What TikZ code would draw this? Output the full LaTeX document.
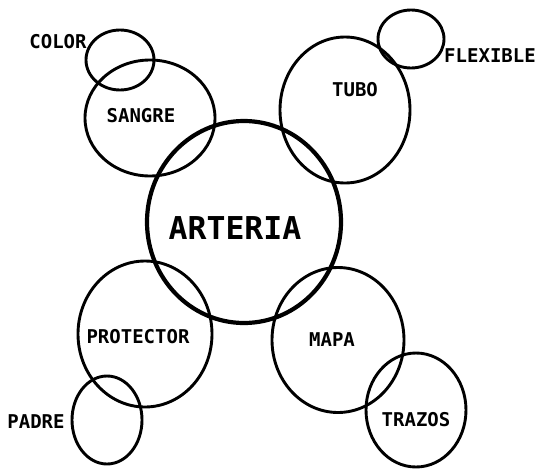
\documentclass[tikz,border=0pt]{standalone}
\usepackage{fontspec}
\newfontfamily\pixfont{DejaVu Sans Mono}[BoldFont={DejaVu Sans Mono Bold}]
\usetikzlibrary{shapes.geometric}
\tikzset{
  bubble/.style={ellipse, draw=black, line width=2.9pt, inner sep=0pt},
  bigbubble/.style={ellipse, draw=black, line width=4.2pt, inner sep=0pt},
  lbl/.style={inner sep=0pt, font=\pixfont\bfseries\fontsize{19}{19}\selectfont},
  biglbl/.style={inner sep=0pt, font=\pixfont\bfseries\fontsize{31.5}{31.5}\selectfont},
}
\begin{document}
\begin{tikzpicture}[x=1pt,y=-1pt]
\useasboundingbox[fill=white] (0,0) rectangle (538,469);
% satellite circles
\node[bubble, minimum width=68pt, minimum height=60pt] (colorc) at (120,60) {};
\node[bubble, minimum width=130pt, minimum height=116pt] (sangrec) at (150,118) {};
\node[bubble, minimum width=66pt, minimum height=58pt] (flexc) at (411,39) {};
\node[bubble, minimum width=130pt, minimum height=146pt] (tuboc) at (345,110) {};
\node[bubble, minimum width=134pt, minimum height=146pt] (protc) at (145,334) {};
\node[bubble, minimum width=70pt, minimum height=88pt] (padrec) at (107,420) {};
\node[bubble, minimum width=132pt, minimum height=145pt] (mapac) at (338,340) {};
\node[bubble, minimum width=100pt, minimum height=114pt] (trazc) at (416,410) {};
% central circle
\node[bigbubble, minimum width=194pt, minimum height=202pt] (arteriac) at (244,222) {};
% labels
\node[lbl] (color) at (58,42) {COLOR};
\node[lbl] (sangre) at (141,116) {SANGRE};
\node[lbl] (tubo) at (355,90) {TUBO};
\node[lbl] (flex) at (490,56) {FLEXIBLE};
\node[biglbl] (arteria) at (235,228) {ARTERIA};
\node[lbl] (protector) at (138,337) {PROTECTOR};
\node[lbl] (mapa) at (332,340) {MAPA};
\node[lbl] (padre) at (36,422) {PADRE};
\node[lbl] (trazos) at (416,420) {TRAZOS};
\end{tikzpicture}
\end{document}
